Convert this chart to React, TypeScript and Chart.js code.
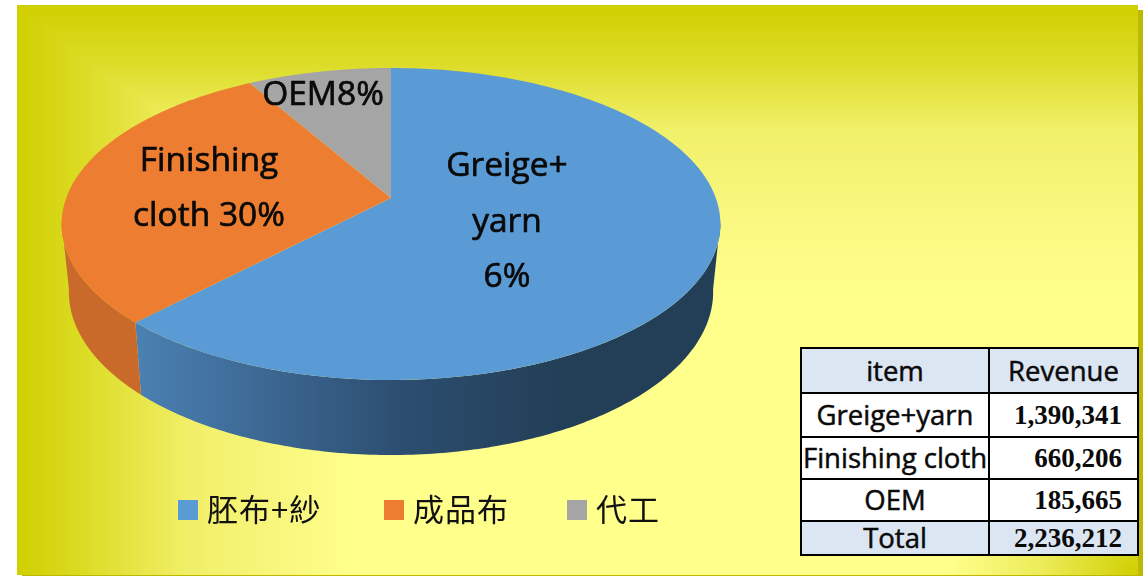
import React, { useEffect, useRef } from "react";
import { Chart, registerables } from "chart.js";

Chart.register(...registerables);

// ---- data ----
const categories = ["胚布+紗", "成品布", "代工"];
const revenue = [1390341, 660206, 185665];
const colors = ["#5B9BD5", "#ED7D31", "#A5A5A5"];
const sliceLabels = [
  ["Greige+", "yarn", "6%"],
  ["Finishing", "cloth 30%"],
  ["OEM8%"],
];
const tableHead = ["item", "Revenue"];
const tableItems = ["Greige+yarn", "Finishing cloth", "OEM"];
const tableTotalLabel = "Total";
const tableTotal = 2236212;

// ---- layout of the tilted pie (a perspective view of the circle) ----
const CX = 391, CY = 198;
const RX = 324.8, RY = 151.67, PERSP = 1 / 6, SHRINK_X = 0.978, SHRINK_Y = 0.973, DEPTH = 66.6;
const LABEL_FONT = '33.5px "Open Sans"';
const labelAnchors = [
  { x: 507, y: [166, 222, 277] },
  { x: 209, y: [161, 216] },
  { x: 323, y: [95] },
];
const legendFont = '31px "Noto Sans CJK TC"';
const legendX = [178, 384, 567];

const top = (a: number) => {
  const u = Math.cos(a), v = Math.sin(a), w = 1 - PERSP * v;
  return [CX + (RX * u) / w, CY + (RY * v) / w];
};
const bottom = (a: number) => {
  const u = Math.cos(a), v = Math.sin(a), w = 1 - PERSP * v;
  return [CX + (RX * SHRINK_X * u) / w, CY + (RY * v * SHRINK_Y + DEPTH) / w];
};

const tilted = {
  id: "tilted",
  beforeDraw(chart: any) {
    const { ctx } = chart;
    ctx.save();
    // drop shadow
    ctx.fillStyle = "#BDB800";
    ctx.fillRect(22, 10, 1121, 567);
    // panel
    ctx.beginPath();
    ctx.rect(17, 5, 1121, 570);
    ctx.clip();
    ctx.fillStyle = "#FFFF8C";
    ctx.fillRect(17, 5, 1121, 570);
    ctx.globalCompositeOperation = "darken";
    const left = ctx.createLinearGradient(17, 0, 360, 0);
    left.addColorStop(0, "#CFCF00");
    left.addColorStop(0.2, "#DCDC26");
    left.addColorStop(0.5, "#F1EF68");
    left.addColorStop(0.75, "#F8F67C");
    left.addColorStop(1, "#FFFF8C");
    ctx.fillStyle = left;
    ctx.fillRect(17, 5, 1121, 570);
    const up = ctx.createLinearGradient(0, 5, 0, 300);
    up.addColorStop(0, "#CFCF00");
    up.addColorStop(0.2, "#DCDC28");
    up.addColorStop(0.42, "#F1F06A");
    up.addColorStop(0.7, "#F9F77E");
    up.addColorStop(1, "#FFFF8C");
    ctx.fillStyle = up;
    ctx.fillRect(17, 5, 1121, 570);
    const corner = ctx.createRadialGradient(1138, 575, 0, 1138, 575, 190);
    corner.addColorStop(0, "#CFCF00");
    corner.addColorStop(0.5, "#ECEB58");
    corner.addColorStop(1, "#FFFF8C");
    ctx.fillStyle = corner;
    ctx.fillRect(900, 380, 238, 195);
    ctx.restore();
  },
  beforeDatasetsDraw(chart: any) {
    const { ctx } = chart;
    const arcs = chart.getDatasetMeta(0).data;
    ctx.save();
    const lo = 0.15, hi = Math.PI - 0.15;
    // side walls: one path made of small quads, so the silhouette runs straight between the rims
    arcs.forEach((arc: any, i: number) => {
      const s = Math.max(arc.startAngle, lo);
      const e = Math.min(arc.endAngle, hi);
      if (e <= s) return;
      if (i === 0) {
        const g = ctx.createLinearGradient(140, 0, 560, 0);
        g.addColorStop(0, "#4A80B2");
        g.addColorStop(0.38, "#38618A");
        g.addColorStop(0.62, "#2C4E70");
        g.addColorStop(1, "#233F58");
        ctx.fillStyle = g;
      } else {
        ctx.fillStyle = "#C96A2A";
      }
      const n = 160;
      ctx.beginPath();
      for (let k = 0; k < n; k++) {
        const a0 = s + ((e - s) * k) / n;
        const a1 = s + ((e - s) * (k + 1)) / n;
        const p = [top(a0), top(a1), bottom(a1), bottom(a0)];
        ctx.moveTo(p[0][0], p[0][1]);
        p.slice(1).forEach((q) => ctx.lineTo(q[0], q[1]));
        ctx.closePath();
      }
      ctx.fill();
    });
    // top face
    arcs.forEach((arc: any, i: number) => {
      const s = arc.startAngle, e = arc.endAngle;
      ctx.beginPath();
      ctx.moveTo(CX, CY);
      const n = 160;
      for (let k = 0; k <= n; k++) {
        const p = top(s + ((e - s) * k) / n);
        ctx.lineTo(p[0], p[1]);
      }
      ctx.closePath();
      ctx.fillStyle = colors[i];
      ctx.fill();
    });
    // slice labels
    ctx.fillStyle = "#0a0a0a";
    ctx.strokeStyle = "#0a0a0a";
    ctx.lineWidth = 0.7;
    ctx.lineJoin = "round";
    ctx.font = LABEL_FONT;
    ctx.textAlign = "center";
    ctx.textBaseline = "middle";
    sliceLabels.forEach((lines, i) =>
      lines.forEach((t, j) => {
        ctx.fillText(t, labelAnchors[i].x, labelAnchors[i].y[j]);
        ctx.strokeText(t, labelAnchors[i].x, labelAnchors[i].y[j]);
      })
    );
    // legend
    ctx.textAlign = "left";
    ctx.font = legendFont;
    (ctx as any).letterSpacing = "1px";
    categories.forEach((c, i) => {
      ctx.fillStyle = colors[i];
      ctx.fillRect(legendX[i], 500, 20, 20);
      ctx.fillStyle = "#111";
      ctx.fillText(c, legendX[i] + 29, 509);
    });
    ctx.restore();
    return false;
  },
};

const cellBase: React.CSSProperties = {
  border: "2px solid #000",
  padding: 0,
  textAlign: "center",
  fontFamily: '"Open Sans"',
  fontSize: 27.5,
  lineHeight: 1,
  color: "#0a0a0a",
  WebkitTextStroke: "0.5px #0a0a0a",
  whiteSpace: "nowrap",
  overflow: "hidden",
};
const numCell: React.CSSProperties = {
  ...cellBase,
  fontFamily: '"Liberation Serif"',
  fontWeight: 700,
  fontSize: 27,
  WebkitTextStroke: "0px",
  textAlign: "right",
  paddingRight: 15,
};
const HEAD_BG = "#DCE6F2";
const rowHeights = [45, 44, 42, 42, 34];
const fmt = (n: number) => n.toLocaleString("en-US");

export default function App() {
  const ref = useRef<HTMLCanvasElement>(null);
  useEffect(() => {
    const chart = new Chart(ref.current as HTMLCanvasElement, {
      type: "pie",
      data: {
        labels: categories,
        datasets: [{ data: revenue, backgroundColor: colors, borderWidth: 0 }],
      },
      plugins: [tilted],
      options: {
        responsive: false,
        animation: false,
        plugins: { legend: { display: false }, tooltip: { enabled: false } },
      },
    } as any);
    return () => chart.destroy();
  }, []);
  return (
    <div style={{ position: "fixed", left: 0, top: 0, width: 1147, height: 576, background: "#fff", overflow: "hidden" }}>
      <canvas ref={ref} width={1147} height={576} style={{ display: "block" }} />
      <table
        style={{
          position: "absolute",
          left: 800,
          top: 347,
          width: 337,
          height: 207,
          borderCollapse: "collapse",
          tableLayout: "fixed",
          background: "#fff",
        }}
      >
        <colgroup>
          <col style={{ width: 188 }} />
          <col style={{ width: 149 }} />
        </colgroup>
        <tbody>
          <tr style={{ height: rowHeights[0], background: HEAD_BG }}>
            <td style={cellBase}>{tableHead[0]}</td>
            <td style={cellBase}>{tableHead[1]}</td>
          </tr>
          {tableItems.map((t, i) => (
            <tr key={t} style={{ height: rowHeights[i + 1] }}>
              <td style={cellBase}>{t}</td>
              <td style={numCell}>{fmt(revenue[i])}</td>
            </tr>
          ))}
          <tr style={{ height: rowHeights[4], background: HEAD_BG }}>
            <td style={cellBase}>{tableTotalLabel}</td>
            <td style={numCell}>{fmt(tableTotal)}</td>
          </tr>
        </tbody>
      </table>
    </div>
  );
}
